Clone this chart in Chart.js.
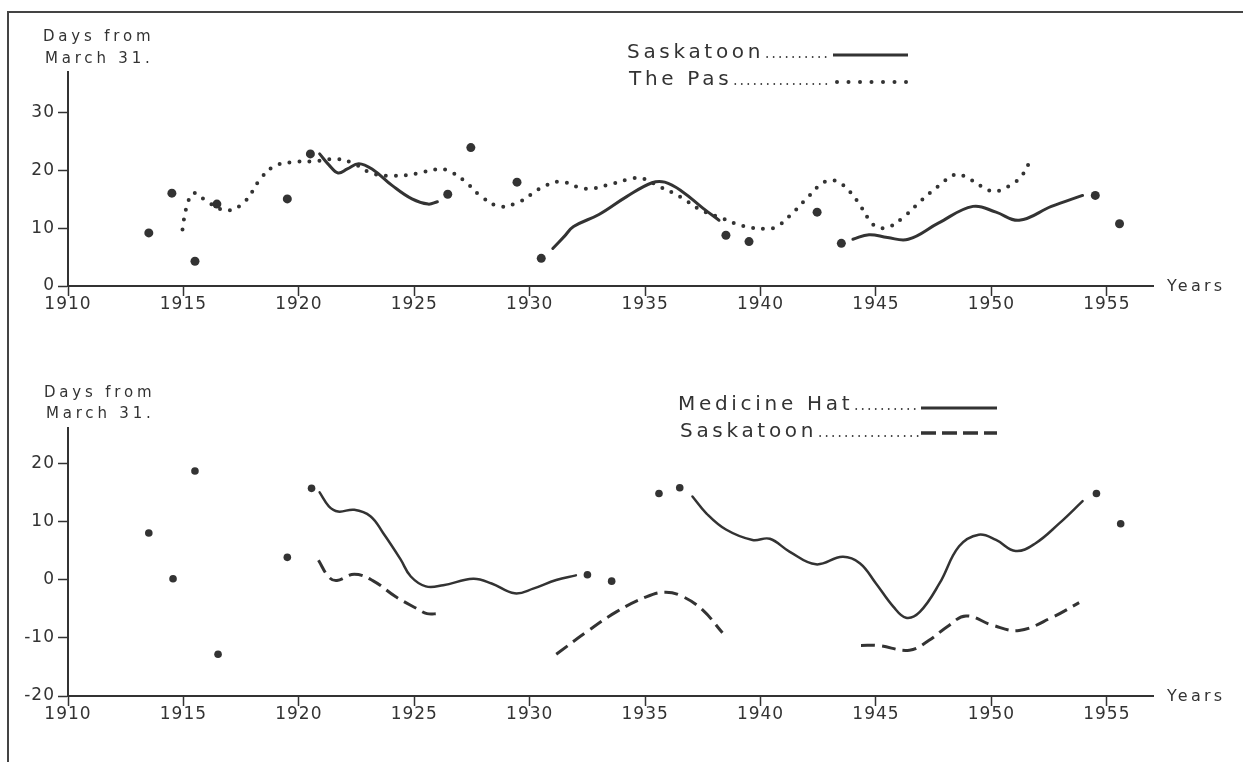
<!DOCTYPE html>
<html><head><meta charset="utf-8">
<script src="https://cdn.jsdelivr.net/npm/chart.js@4.4.1/dist/chart.umd.min.js"></script>
<style>
html,body{margin:0;padding:0;background:#fff;}
#wrap{position:relative;width:1243px;height:762px;overflow:hidden;background:#fff;}
#frame{position:absolute;left:7px;top:11px;width:1300px;height:800px;border-top:2px solid #444;border-left:2px solid #444;}
canvas{position:absolute;left:0;}
#c1{top:0}#c2{top:381px}
</style></head><body>
<div id="wrap"><div id="frame"></div>
<canvas id="c1" width="1243" height="381"></canvas>
<canvas id="c2" width="1243" height="381"></canvas></div>
<script>
// ---------- tick labels ----------
const xTickYears = [1910,1915,1920,1925,1930,1935,1940,1945,1950,1955];
const topYTicks = [0,10,20,30];
const bottomYTicks = [-20,-10,0,10,20];

// ---------- top panel: Saskatoon (solid) & The Pas (dotted) ----------
const topSeriesNames = ['Saskatoon','The Pas'];
const topDots = [[1913.5,9.2],[1914.5,16.1],[1915.5,4.3],[1916.45,14.2],[1919.5,15.1],[1920.5,22.9],
  [1926.45,15.9],[1927.45,24.0],[1929.45,18.0],[1930.5,4.8],[1938.5,8.8],[1939.5,7.7],
  [1942.45,12.8],[1943.5,7.4],[1954.5,15.7],[1955.55,10.8]];
const saskatoonTop1 = [[1920.9,22.9],[1921.3,21.0],[1921.7,19.6],[1922.1,20.3],[1922.6,21.2],[1923.2,20.2],
  [1924.05,17.4],[1924.9,15.1],[1925.6,14.2],[1926.0,14.6]];
const saskatoonTop2 = [[1931.0,6.5],[1931.5,8.6],[1931.9,10.3],[1933.0,12.4],[1934.2,15.5],[1935.3,17.9],
  [1935.85,18.0],[1936.6,16.4],[1937.5,13.5],[1938.2,11.4]];
const saskatoonTop3 = [[1944.0,8.1],[1944.7,8.9],[1945.5,8.4],[1946.4,8.1],[1947.7,10.9],[1949.2,13.8],
  [1950.2,12.8],[1951.2,11.4],[1952.6,13.8],[1953.95,15.7]];
const thePas = [[1914.96,9.8],[1915.12,13.4],[1915.45,16.1],[1916.1,14.4],[1916.95,13.1],[1917.7,14.8],
  [1918.25,18.1],[1918.9,20.7],[1919.75,21.5],[1920.65,21.6],[1921.6,22.0],[1922.3,21.4],[1923.2,19.5],
  [1924.15,19.1],[1925.1,19.5],[1925.95,20.2],[1926.4,20.1],[1927.15,18.3],[1927.85,15.7],[1928.7,13.8],
  [1929.6,14.7],[1930.4,16.8],[1931.3,18.1],[1932.2,17.0],[1932.7,16.9],[1933.55,17.7],[1934.4,18.6],
  [1934.85,18.7],[1935.7,17.1],[1936.55,15.4],[1937.4,13.2],[1938.3,11.8],[1939.25,10.4],[1940.25,9.9],
  [1940.75,10.4],[1941.45,12.9],[1942.05,15.4],[1942.7,17.9],[1943.15,18.3],[1943.55,17.6],[1944.2,14.7],
  [1944.7,11.5],[1945.05,10.2],[1945.55,10.2],[1946.3,12.3],[1946.95,14.8],[1947.7,17.3],[1948.4,19.3],
  [1948.8,19.1],[1949.6,17.2],[1950.05,16.4],[1950.45,16.7],[1950.9,17.7],[1951.3,19.0],[1951.75,22.3]];

// ---------- bottom panel: Medicine Hat (solid) & Saskatoon (dashed) ----------
const bottomSeriesNames = ['Medicine Hat','Saskatoon'];
const bottomDots = [[1913.5,8.1],[1914.55,0.2],[1915.5,18.8],[1916.5,-12.8],[1919.5,3.9],[1920.55,15.8],
  [1932.5,0.9],[1933.55,-0.2],[1935.6,14.9],[1936.5,15.9],[1954.55,14.9],[1955.6,9.7]];
const medicineHat1 = [[1920.9,15.1],[1921.3,12.7],[1921.7,11.8],[1922.4,12.1],[1923.1,11.0],[1923.65,8.1],
  [1924.4,3.6],[1924.85,0.6],[1925.5,-1.1],[1926.25,-0.9],[1927.55,0.2],[1928.35,-0.6],[1929.35,-2.3],
  [1930.15,-1.5],[1931.15,0.0],[1932.0,0.8]];
const medicineHat2 = [[1937.05,14.4],[1937.65,11.5],[1938.5,8.7],[1939.65,6.9],[1940.4,7.1],[1941.25,4.9],
  [1942.4,2.7],[1943.55,4.0],[1944.3,2.9],[1945.0,-0.6],[1945.75,-4.6],[1946.3,-6.5],[1946.9,-5.5],
  [1947.75,-0.6],[1948.6,5.8],[1949.45,7.8],[1950.2,6.9],[1951.05,5.0],[1951.9,6.3],[1952.95,9.8],[1953.95,13.6]];
const saskatoonBottom1 = [[1920.85,3.4],[1921.3,0.5],[1921.65,-0.1],[1922.4,1.0],[1923.2,-0.1],[1924.2,-2.9],
  [1925.1,-4.9],[1925.55,-5.8],[1926.05,-5.8]];
const saskatoonBottom2 = [[1931.15,-12.8],[1932.45,-9.0],[1933.75,-5.5],[1935.05,-2.9],[1935.9,-2.1],
  [1936.65,-2.9],[1937.5,-5.2],[1938.35,-9.1]];
const saskatoonBottom3 = [[1944.35,-11.3],[1945.1,-11.3],[1946.45,-12.1],[1947.3,-10.4],[1948.1,-8.0],
  [1948.9,-6.2],[1950.05,-7.8],[1951.2,-8.7],[1952.65,-6.4],[1953.8,-3.9]];

// ---------- helpers ----------
const INK = '#333333';
const FONT = '"DejaVu Sans", sans-serif';
const pts = a => a.map(([x,y]) => ({x, y}));

function solid(a, w){ return {data:pts(a), borderColor:INK, borderWidth:w, pointRadius:0, tension:0.4, fill:false, borderCapStyle:'round', borderJoinStyle:'round'}; }
function dotted(a){ return {data:pts(a), borderColor:INK, borderWidth:4, borderDash:[0,10], borderCapStyle:'round', pointRadius:0, tension:0.4, fill:false}; }
function dashed(a){ return {data:pts(a), borderColor:INK, borderWidth:3, borderDash:[14,7], pointRadius:0, tension:0.4, fill:false}; }
function dots(a, r){ return {data:pts(a), showLine:false, pointRadius:r, pointBackgroundColor:INK, pointBorderWidth:0, borderColor:INK}; }

function scaleSet(yMin, yMax, yTicks, xHeight){
  const axisBase = () => ({
    type:'linear',
    border:{display:true, color:INK, width:2},
    grid:{display:true, drawOnChartArea:false, drawTicks:true, tickLength:10, tickColor:INK, tickWidth:1.5},
  });
  return {
    x: Object.assign(axisBase(), {
      min:1910, max:1957,
      afterBuildTicks: s => { s.ticks = xTickYears.map(v => ({value:v})); },
      afterFit: s => { s.height = xHeight; },
      ticks:{font:{family:FONT, size:17}, color:INK, padding:-2, maxRotation:0, autoSkip:false, callback:v => String(v)}
    }),
    y: Object.assign(axisBase(), {
      min:yMin, max:yMax,
      afterBuildTicks: s => { s.ticks = yTicks.map(v => ({value:v})); },
      afterFit: s => { s.width = 68; },
      ticks:{font:{family:FONT, size:17}, color:INK, padding:3, callback:v => String(v)}
    })
  };
}

function txt(ctx, s, x, y, size, spacing, base){
  ctx.save();
  ctx.font = size + 'px ' + FONT;
  ctx.fillStyle = INK;
  ctx.textBaseline = base || 'alphabetic';
  ctx.textAlign = 'left';
  try { ctx.letterSpacing = spacing + 'px'; } catch(e){}
  ctx.fillText(s, x, y);
  const w = ctx.measureText(s).width;
  ctx.restore();
  return x + w;
}
function leader(ctx, x0, x1, y){
  ctx.save(); ctx.fillStyle = INK;
  for (let x = x0 + 3; x < x1 - 2; x += 6.5){ ctx.beginPath(); ctx.arc(x, y, 0.9, 0, Math.PI*2); ctx.fill(); }
  ctx.restore();
}

const annot = {
  id:'annot',
  beforeDraw(chart){
    try { chart.ctx.letterSpacing = '1px'; } catch(e){}
  },
  afterDraw(chart, args, o){
    const ctx = chart.ctx;
    txt(ctx, 'Days from', o.tx, o.ty1, 15, 3.8);
    txt(ctx, 'March 31.', o.tx + 2, o.ty2, 15, 3.8);
    txt(ctx, 'Years', 1167, o.yearsY, 16, 3.2, 'middle');
    o.items.forEach(it => {
      const end = txt(ctx, it.name, it.x, it.base, 20, 3.7);
      leader(ctx, end, it.s0, it.base - 1);
      ctx.save();
      ctx.strokeStyle = INK; ctx.fillStyle = INK;
      if (it.kind === 'solid'){
        ctx.lineWidth = 3; ctx.beginPath(); ctx.moveTo(it.s0, it.ly); ctx.lineTo(it.s1, it.ly); ctx.stroke();
      } else if (it.kind === 'dashed'){
        ctx.lineWidth = 3.5; ctx.setLineDash([15,6]); ctx.beginPath(); ctx.moveTo(it.s0, it.ly); ctx.lineTo(it.s1, it.ly); ctx.stroke();
      } else {
        for (let x = it.s0 + 3; x <= it.s1; x += 11.5){ ctx.beginPath(); ctx.arc(x, it.ly, 2, 0, Math.PI*2); ctx.fill(); }
      }
      ctx.restore();
    });
  }
};

function make(id, datasets, yMin, yMax, yTicks, topPad, xHeight, annotOpts){
  return new Chart(document.getElementById(id), {
    type:'line',
    data:{datasets},
    options:{
      responsive:false, animation:false, devicePixelRatio:1, events:[],
      layout:{padding:{top:topPad, left:0, right:90, bottom:0}},
      scales: scaleSet(yMin, yMax, yTicks, xHeight),
      plugins:{legend:{display:false}, tooltip:{enabled:false}, annot:annotOpts}
    },
    plugins:[annot]
  });
}

make('c1', [
  dotted(thePas),
  solid(saskatoonTop1, 3), solid(saskatoonTop2, 3), solid(saskatoonTop3, 3),
  dots(topDots, 4.5)
], 0, 37.1, topYTicks, 72, 95, {
  tx:43, ty1:41, ty2:63, yearsY:287,
  items:[
    {name:topSeriesNames[0], x:627, base:58, s0:833, s1:908, ly:55, kind:'solid'},
    {name:topSeriesNames[1], x:629, base:85, s0:834, s1:908, ly:82, kind:'dots'}
  ]
});

make('c2', [
  solid(medicineHat1, 2.5), solid(medicineHat2, 2.5),
  dashed(saskatoonBottom1), dashed(saskatoonBottom2), dashed(saskatoonBottom3),
  dots(bottomDots, 3.8)
], -20, 26.2, bottomYTicks, 47, 66, {
  tx:44, ty1:16, ty2:37, yearsY:316,
  items:[
    {name:bottomSeriesNames[0], x:678, base:29, s0:921, s1:997, ly:27, kind:'solid'},
    {name:bottomSeriesNames[1], x:680, base:56, s0:921, s1:997, ly:52, kind:'dashed'}
  ]
});
</script>
</body></html>
